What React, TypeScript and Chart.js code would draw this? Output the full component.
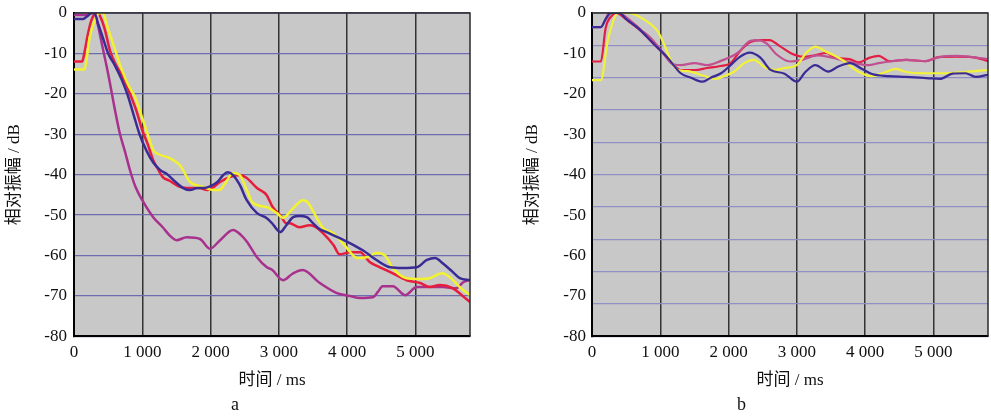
import React, { useEffect, useRef } from 'react';
import { Chart, registerables } from 'chart.js';
Chart.register(...registerables);

const FONT = "'Liberation Serif', 'Times New Roman', 'Noto Sans CJK SC', serif";

// ---------- data (time ms, relative amplitude dB) ----------
const xTitle = '时间 / ms';
const yTitle = '相对振幅 / dB';
const panelLabels = ['a', 'b'];
const xTickValues = [0, 1000, 2000, 3000, 4000, 5000];
const yTickValues = [0, -10, -20, -30, -40, -50, -60, -70, -80];
const yGridValuesB = [0, -8, -16, -24, -32, -40, -48, -56, -64, -72, -80];

const aRed: [number, number][] = [[0,-12],[120,-12],[150,-10],[200,-5.5],[250,-2],[300,-0.3],[350,0],[400,-1.5],[450,-4],[530,-9.5],[620,-13],[720,-16],[820,-20],[920,-24.5],[1000,-29],[1070,-32],[1160,-36.4],[1210,-38],[1300,-40.6],[1400,-41.5],[1550,-43],[1700,-43.3],[1840,-43.3],[1950,-43.8],[2050,-43],[2140,-41.8],[2280,-40.6],[2430,-40.1],[2530,-40.8],[2680,-43.3],[2820,-45],[2910,-48],[3020,-50],[3110,-52],[3160,-52],[3300,-53],[3450,-52.5],[3520,-52.8],[3650,-54.5],[3800,-57.4],[3890,-59.7],[4040,-59.2],[4190,-59.2],[4330,-61.6],[4480,-62.9],[4670,-64.4],[4870,-66.1],[5070,-66.8],[5210,-67.8],[5360,-67.3],[5550,-68.1],[5680,-69.8],[5800,-71.5]];
const aBlue: [number, number][] = [[0,-1.5],[130,-1.5],[180,-1],[260,0],[300,0],[350,-2.5],[420,-6],[500,-10],[600,-13],[700,-16.5],[780,-20],[870,-25],[960,-30],[1060,-34],[1160,-37],[1260,-38.8],[1360,-39.8],[1500,-42],[1600,-43.3],[1700,-43.8],[1800,-43.3],[1900,-43.3],[2000,-42.8],[2100,-41.8],[2180,-40.2],[2250,-39.4],[2330,-40.1],[2430,-42.6],[2530,-46.3],[2680,-49.5],[2820,-50.7],[2900,-52],[2970,-53.5],[3020,-54.2],[3110,-52.5],[3210,-50.5],[3300,-50.2],[3410,-50.5],[3500,-52],[3600,-53.5],[3700,-54.2],[3890,-55.7],[4040,-56.9],[4230,-58.7],[4430,-61.1],[4630,-62.9],[4820,-63.1],[5020,-62.9],[5170,-61.1],[5290,-60.6],[5400,-61.9],[5550,-64.1],[5650,-65.6],[5800,-66.1]];
const aYellow: [number, number][] = [[0,-14],[150,-14],[180,-12],[230,-6],[300,-2],[370,0],[420,0],[500,-4],[600,-9],[700,-14],[800,-18],[900,-21],[1000,-26],[1100,-31],[1160,-33.9],[1250,-35],[1400,-35.9],[1550,-37.6],[1700,-41.8],[1890,-43],[2040,-43.8],[2130,-43.8],[2200,-42.5],[2330,-39.6],[2430,-40.1],[2530,-43.8],[2620,-47],[2820,-48],[2970,-49.5],[3060,-50.7],[3210,-48.3],[3350,-46.3],[3420,-46.8],[3550,-50.5],[3650,-53.2],[3800,-54.5],[4000,-58.2],[4140,-60.6],[4290,-60.4],[4430,-59.4],[4550,-59.9],[4670,-63.1],[4870,-65.6],[5070,-65.8],[5210,-65.6],[5390,-64.4],[5500,-65.3],[5650,-67.8],[5800,-69.8]];
const aMagenta: [number, number][] = [[0,-0.5],[200,-0.5],[250,0],[300,0],[350,-3],[400,-7],[500,-15],[600,-24],[670,-29.7],[750,-34.5],[820,-38.9],[900,-43],[1000,-46.3],[1160,-50.5],[1300,-53],[1400,-55],[1500,-56.2],[1650,-55.5],[1845,-55.9],[1990,-58.3],[2140,-56.2],[2330,-53.7],[2450,-55],[2530,-56.5],[2680,-60.4],[2825,-62.9],[2900,-63.5],[3060,-66.1],[3200,-64.5],[3350,-63.6],[3600,-66.8],[3850,-69.3],[4040,-70],[4190,-70.5],[4380,-70.3],[4450,-69],[4520,-67.6],[4670,-67.6],[4850,-69.8],[5020,-67.8],[5210,-67.8],[5400,-67.8],[5600,-68.1],[5700,-66.6],[5800,-66]];

const bBlue: [number, number][] = [[0,-3.5],[130,-3.5],[200,-1.5],[280,0],[400,0],[500,-1.5],[670,-3.7],[800,-5.8],[920,-7.9],[1110,-11.1],[1300,-14.9],[1450,-16],[1620,-17],[1740,-16],[1890,-14.9],[2030,-12.9],[2160,-10.9],[2310,-9.8],[2470,-11.1],[2610,-14],[2820,-15],[3000,-17],[3120,-14.7],[3270,-12.9],[3460,-14.5],[3610,-13.2],[3780,-12.4],[3950,-13.8],[4100,-15.1],[4350,-15.6],[4600,-15.8],[4900,-16.1],[5100,-16.3],[5280,-15],[5470,-14.9],[5620,-15.8],[5800,-15.3]];
const bRed: [number, number][] = [[0,-12],[130,-12],[200,-3.7],[300,-0.5],[350,0],[530,-2],[720,-4.5],[920,-7.9],[1070,-10.4],[1210,-13.1],[1300,-14.1],[1500,-14.1],[1690,-13.6],[1880,-13.1],[2030,-12.4],[2170,-9.4],[2320,-7.2],[2460,-6.7],[2600,-6.7],[2750,-8.2],[2920,-10],[3090,-10.8],[3280,-10.4],[3430,-9.9],[3570,-11.1],[3770,-11.4],[3910,-12.2],[4060,-11.1],[4200,-10.6],[4350,-11.9],[4600,-11.6],[4890,-11.9],[5080,-10.9],[5330,-10.8],[5570,-10.9],[5800,-11.9]];
const bPink: [number, number][] = [[0,-3.5],[130,-3.5],[200,-1.5],[250,0],[380,0],[570,-2],[720,-4.2],[860,-6.2],[1010,-9.2],[1160,-12.4],[1300,-12.9],[1500,-12.4],[1690,-12.9],[1880,-11.9],[2130,-9.9],[2320,-6.9],[2430,-6.7],[2560,-7.6],[2700,-10.2],[2900,-12],[3080,-11.6],[3300,-10.5],[3500,-11],[3700,-11.8],[3900,-12.6],[4050,-12.9],[4200,-12.4],[4400,-11.9],[4600,-11.6],[4890,-11.9],[5080,-10.9],[5330,-10.6],[5570,-10.9],[5800,-11.4]];
const bYellow: [number, number][] = [[0,-16.6],[130,-16.6],[230,-6.9],[300,-2.5],[380,0],[530,0],[770,-1.7],[960,-4.5],[1060,-7.9],[1160,-11.9],[1260,-14.1],[1400,-14.4],[1650,-15.6],[1800,-16.3],[1940,-15.6],[2090,-14.4],[2230,-12.4],[2370,-11.6],[2530,-13.4],[2680,-14.1],[2820,-13.6],[3000,-12.9],[3130,-10],[3270,-8.3],[3420,-9.5],[3550,-10.5],[3700,-12],[3910,-14.6],[4100,-15.6],[4300,-14.6],[4450,-13.8],[4600,-14.6],[4890,-14.9],[5180,-14.9],[5470,-14.6],[5800,-14.1]];

const X_MAX = 5800;
const Y_MIN = -80;
const Y_MAX = 0;

const BG = '#c8c8c8';
const TEXT = '#111111';

type Series = { pts: [number, number][]; color: string; width: number };

function fmtThousands(v: number): string {
  const n = Math.round(v);
  if (n === 0) return '0';
  const s = String(Math.abs(n));
  const out = s.replace(/\B(?=(\d{3})+(?!\d))/g, ' ');
  return n < 0 ? '-' + out : out;
}

const framePlugin = {
  id: 'panelFrame',
  beforeDraw(chart: any) {
    const { ctx, chartArea } = chart;
    const { left, top, right, bottom } = chartArea;
    ctx.save();
    ctx.fillStyle = BG;
    ctx.fillRect(left, top, right - left, bottom - top);
    ctx.restore();
  },
  afterDraw(chart: any) {
    const { ctx, chartArea } = chart;
    const { left, top, right, bottom } = chartArea;
    ctx.save();
    ctx.strokeStyle = '#2a2a2a';
    ctx.lineWidth = 1.5;
    ctx.beginPath();
    ctx.moveTo(left, top);
    ctx.lineTo(right, top);
    ctx.lineTo(right, bottom);
    ctx.stroke();
    ctx.restore();
  },
};

function makeConfig(opts: {
  series: Series[];
  letter: string;
  padLeft: number;
  padRight: number;
  yWidth: number;
  yTitlePad: number;
  yTickPad: number;
  gridEvery8: boolean;
  hGridColor: string;
}) {
  const tickFont = { family: FONT, size: 17 };
  const scales: any = {
    x: {
      type: 'linear',
      min: 0,
      max: X_MAX,
      afterBuildTicks(s: any) {
        s.ticks = xTickValues.map((v) => ({ value: v }));
      },
      ticks: {
        autoSkip: false,
        maxRotation: 0,
        padding: 6,
        color: TEXT,
        font: tickFont,
        callback: (v: any) => fmtThousands(Number(v)),
      },
      grid: { color: '#333333', lineWidth: 1.5, drawTicks: false },
      border: { color: '#000000', width: 2 },
      title: {
        display: true,
        text: xTitle,
        color: TEXT,
        font: { family: FONT, size: 17 },
        padding: { top: 2, bottom: 2 },
      },
      afterFit(s: any) {
        s.height = 56;
        s.paddingLeft = 0;
        s.paddingRight = 0;
      },
    },
    y: {
      type: 'linear',
      position: 'left',
      min: Y_MIN,
      max: Y_MAX,
      afterBuildTicks(s: any) {
        s.ticks = yTickValues.map((v) => ({ value: v }));
      },
      ticks: {
        autoSkip: false,
        padding: opts.yTickPad,
        color: TEXT,
        font: tickFont,
        callback: (v: any) => String(v),
      },
      grid: {
        display: !opts.gridEvery8,
        color: opts.hGridColor,
        lineWidth: 1.3,
        drawTicks: false,
      },
      border: { color: '#000000', width: 2 },
      title: {
        display: true,
        text: yTitle,
        color: TEXT,
        font: { family: FONT, size: 17 },
        padding: { top: opts.yTitlePad, bottom: 0 },
      },
      afterFit(s: any) {
        s.width = opts.yWidth;
        s.paddingTop = 0;
        s.paddingBottom = 0;
      },
    },
  };
  if (opts.gridEvery8) {
    scales.yGrid = {
      type: 'linear',
      position: 'left',
      min: Y_MIN,
      max: Y_MAX,
      afterBuildTicks(s: any) {
        s.ticks = yGridValuesB.map((v) => ({ value: v }));
      },
      ticks: { display: false },
      grid: { color: opts.hGridColor, lineWidth: 1.3, drawTicks: false },
      border: { display: false },
      afterFit(s: any) {
        s.width = 0;
        s.paddingTop = 0;
        s.paddingBottom = 0;
      },
    };
  }
  return {
    type: 'line' as const,
    data: {
      datasets: opts.series.map((s) => ({
        data: s.pts.map(([x, y]) => ({ x, y })),
        borderColor: s.color,
        borderWidth: s.width,
        pointRadius: 0,
        fill: false,
        cubicInterpolationMode: 'monotone' as const,
        xAxisID: 'x',
        yAxisID: 'y',
      })),
    },
    options: {
      animation: false as const,
      responsive: false,
      devicePixelRatio: 1,
      layout: { padding: { top: 13, left: opts.padLeft, right: opts.padRight, bottom: 0 } },
      plugins: {
        legend: { display: false },
        tooltip: { enabled: false },
        title: {
          display: true,
          position: 'bottom' as const,
          text: opts.letter,
          color: TEXT,
          font: { family: FONT, size: 18, weight: 'normal' as const },
          padding: { top: 2, bottom: 0 },
        },
      },
      scales,
    },
    plugins: [framePlugin],
  };
}

export default function App() {
  const aRef = useRef<HTMLCanvasElement | null>(null);
  const bRef = useRef<HTMLCanvasElement | null>(null);

  useEffect(() => {
    const charts: Chart[] = [];
    if (aRef.current) {
      charts.push(
        new Chart(
          aRef.current,
          makeConfig({
            series: [
              { pts: aBlue, color: '#3b2c95', width: 2.5 },
              { pts: aYellow, color: '#f2f22e', width: 2.5 },
              { pts: aRed, color: '#e61e3c', width: 2.5 },
              { pts: aMagenta, color: '#a8318e', width: 2.5 },
            ],
            letter: panelLabels[0],
            padLeft: 0,
            padRight: 25,
            yWidth: 74,
            yTitlePad: 4,
            yTickPad: 7,
            gridEvery8: false,
            hGridColor: '#6c6cb0',
          }) as any
        )
      );
    }
    if (bRef.current) {
      charts.push(
        new Chart(
          bRef.current,
          makeConfig({
            series: [
              { pts: bBlue, color: '#3b2c95', width: 2.2 },
              { pts: bYellow, color: '#f2f23a', width: 2.2 },
              { pts: bPink, color: '#c0508f', width: 2.2 },
              { pts: bRed, color: '#e31e45', width: 2.2 },
            ],
            letter: panelLabels[1],
            padLeft: 0,
            padRight: 3,
            yWidth: 97,
            yTitlePad: 27,
            yTickPad: 6,
            gridEvery8: true,
            hGridColor: '#9090c4',
          }) as any
        )
      );
    }
    return () => {
      charts.forEach((c) => c.destroy());
    };
  }, []);

  return (
    <div
      style={{
        position: 'absolute',
        left: 0,
        top: 0,
        width: 991,
        height: 416,
        background: '#ffffff',
        overflow: 'hidden',
      }}
    >
      <canvas
        ref={aRef}
        width={495}
        height={416}
        style={{ position: 'absolute', left: 0, top: 0, width: 495, height: 416 }}
      />
      <canvas
        ref={bRef}
        width={496}
        height={416}
        style={{ position: 'absolute', left: 495, top: 0, width: 496, height: 416 }}
      />
    </div>
  );
}
